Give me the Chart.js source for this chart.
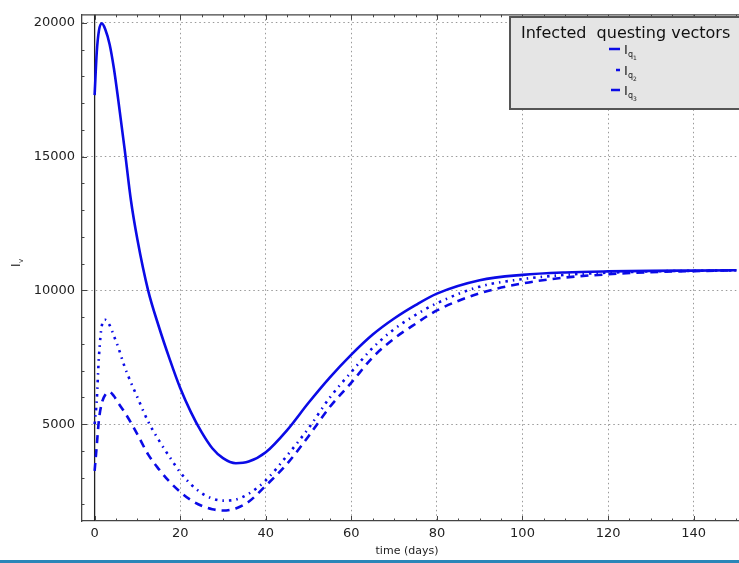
<!DOCTYPE html>
<html>
<head>
<meta charset="utf-8">
<script src="https://cdn.jsdelivr.net/npm/chart.js@4.4.1/dist/chart.umd.min.js"></script>
<style>
  html, body { margin: 0; padding: 0; background: #fff; overflow: hidden; }
  canvas { display: block; }
</style>
</head>
<body>
<canvas id="myChart" width="739" height="563"></canvas>
<script>
// time points (days) and the three infected questing vector curves
const times = [0, 0.5, 1, 1.7, 2.5, 3.5, 4.5, 5.5, 7, 8.5, 10, 12.5, 15, 17.5, 20, 22.5, 25, 27.5, 30, 33, 36, 40, 45, 50, 55, 60, 65, 70, 75, 80, 90, 100, 110, 120, 130, 140, 150];
const iq1 = [17300, 18900, 19700, 19980, 19750, 19200, 18300, 17150, 15300, 13350, 11900, 10000, 8650, 7450, 6350, 5450, 4700, 4100, 3730, 3540, 3600, 3950, 4780, 5800, 6750, 7600, 8350, 8950, 9450, 9880, 10380, 10580, 10670, 10710, 10730, 10740, 10750];
const iq2 = [5000, 5900, 7500, 8700, 8900, 8700, 8300, 7880, 7150, 6550, 6000, 5100, 4400, 3780, 3200, 2750, 2420, 2220, 2140, 2180, 2400, 2900, 3830, 4850, 6000, 6950, 7850, 8550, 9080, 9520, 10140, 10420, 10580, 10660, 10710, 10730, 10750];
const iq3 = [3250, 4200, 5150, 5800, 6100, 6200, 6050, 5800, 5450, 5050, 4620, 3870, 3320, 2850, 2470, 2160, 1950, 1820, 1770, 1850, 2100, 2700, 3520, 4550, 5650, 6550, 7500, 8200, 8750, 9250, 9890, 10260, 10480, 10600, 10680, 10720, 10750];

const seriesSubs = ["1", "2", "3"];
const xTicks = [0, 20, 40, 60, 80, 100, 120, 140];
const yTicks = [5000, 10000, 15000, 20000];
const legendTitle = "Infected  questing vectors";
const xTitle = "time (days)";

const blue = "#0b0be6";
const font = "DejaVu Sans";

function toPoints(arr) {
  return times.map((t, i) => ({ x: t, y: arr[i] }));
}

const dashes = [[], [2.5, 5, 1.5, 5], [8, 6]];

const decor = {
  id: "decor",
  beforeDatasetsDraw(chart) {
    const { ctx, chartArea, scales } = chart;
    // vertical line at t = 0
    const x0 = scales.x.getPixelForValue(0);
    ctx.save();
    ctx.strokeStyle = "#222";
    ctx.lineWidth = 1.3;
    ctx.beginPath();
    ctx.moveTo(x0, chartArea.top);
    ctx.lineTo(x0, chartArea.bottom);
    ctx.stroke();
    ctx.restore();
  },
  afterDraw(chart) {
    const { ctx, chartArea, scales } = chart;
    const { left, right, top, bottom } = chartArea;
    ctx.save();
    ctx.strokeStyle = "#444";
    ctx.lineWidth = 1.3;
    // top spine
    ctx.beginPath();
    ctx.moveTo(left, top);
    ctx.lineTo(right, top);
    ctx.stroke();

    // tick marks (inward)
    ctx.lineWidth = 1;
    ctx.beginPath();
    for (let v = 2000; v <= 20000; v += 1000) {
      const y = Math.round(scales.y.getPixelForValue(v)) + 0.5;
      const len = v % 5000 === 0 ? 5 : 2.5;
      ctx.moveTo(left, y);
      ctx.lineTo(left + len, y);
    }
    for (let v = 0; v <= 150; v += 5) {
      const x = Math.round(scales.x.getPixelForValue(v)) + 0.5;
      const len = v % 20 === 0 ? 5 : 2.5;
      ctx.moveTo(x, bottom);
      ctx.lineTo(x, bottom - len);
      ctx.moveTo(x, top);
      ctx.lineTo(x, top + len);
    }
    ctx.stroke();

    // axis titles
    ctx.fillStyle = "#222";
    ctx.font = "11px " + font;
    ctx.textAlign = "center";
    ctx.textBaseline = "middle";
    ctx.fillText(xTitle, 407, 551);

    ctx.save();
    ctx.translate(17, 264);
    ctx.rotate(-Math.PI / 2);
    ctx.font = "12px " + font;
    ctx.textAlign = "left";
    ctx.fillText("I", -3, 0);
    ctx.font = "7px " + font;
    ctx.fillText("v", 1, 4);
    ctx.restore();

    // legend box
    const bx = 510, by = 17, bw = 240, bh = 92;
    ctx.fillStyle = "#e5e5e5";
    ctx.fillRect(bx, by, bw, bh);
    ctx.strokeStyle = "#555";
    ctx.lineWidth = 2;
    ctx.strokeRect(bx, by, bw, bh);
    ctx.fillStyle = "#111";
    ctx.font = "16px " + font;
    ctx.textAlign = "left";
    ctx.textBaseline = "alphabetic";
    ctx.fillText(legendTitle, 521, 38);

    const rows = [49, 70, 90];
    const sampleStart = [609, 616, 611];
    chart.data.datasets.forEach((ds, i) => {
      const y = rows[i];
      ctx.strokeStyle = blue;
      ctx.lineWidth = 2.5;
      ctx.setLineDash([]);
      ctx.beginPath();
      ctx.moveTo(sampleStart[i], y);
      ctx.lineTo(620, y);
      ctx.stroke();
      ctx.fillStyle = "#222";
      ctx.font = "13px " + font;
      ctx.fillText("I", 624, y + 5);
      ctx.font = "8px " + font;
      ctx.fillText("q", 628, y + 8);
      ctx.font = "6px " + font;
      ctx.fillText(seriesSubs[i], 633, y + 11);
    });

    // bottom rule of the page
    ctx.fillStyle = "#2a86b8";
    ctx.fillRect(0, 560, 739, 3);
    ctx.restore();
  }
};

const ctx = document.getElementById("myChart");

new Chart(ctx, {
  type: "line",
  data: {
    datasets: [iq1, iq2, iq3].map((arr, i) => ({
      label: "Iq" + seriesSubs[i],
      data: toPoints(arr),
      borderColor: blue,
      borderWidth: 2.6,
      borderDash: dashes[i],
      pointRadius: 0,
      fill: false,
      cubicInterpolationMode: "monotone",
    })),
  },
  options: {
    responsive: false,
    animation: false,
    layout: { padding: { top: 8, left: 0, right: 0, bottom: 0 } },
    plugins: {
      legend: { display: false },
      tooltip: { enabled: false },
    },
    scales: {
      x: {
        type: "linear",
        min: -2.95,
        max: 150.6,
        afterBuildTicks: (s) => { s.ticks = xTicks.map((v) => ({ value: v })); },
        afterFit: (s) => { s.height = 42; },
        grid: { color: "#999", drawTicks: false, lineWidth: 1 },
        border: { display: true, color: "#444", width: 1.3, dash: [1.5, 3] },
        ticks: { font: { family: font, size: 13 }, color: "#222", padding: 5, maxRotation: 0, autoSkip: false, callback: (v) => String(v) },
      },
      y: {
        type: "linear",
        min: 1380,
        max: 20300,
        afterBuildTicks: (s) => { s.ticks = yTicks.map((v) => ({ value: v })); },
        afterFit: (s) => { s.width = 82; },
        grid: { color: "#999", drawTicks: false, lineWidth: 1 },
        border: { display: true, color: "#444", width: 1.3, dash: [1.5, 3] },
        ticks: { font: { family: font, size: 13 }, color: "#222", padding: 7, callback: (v) => String(v) },
      },
    },
  },
  plugins: [decor],
});
</script>
</body>
</html>
